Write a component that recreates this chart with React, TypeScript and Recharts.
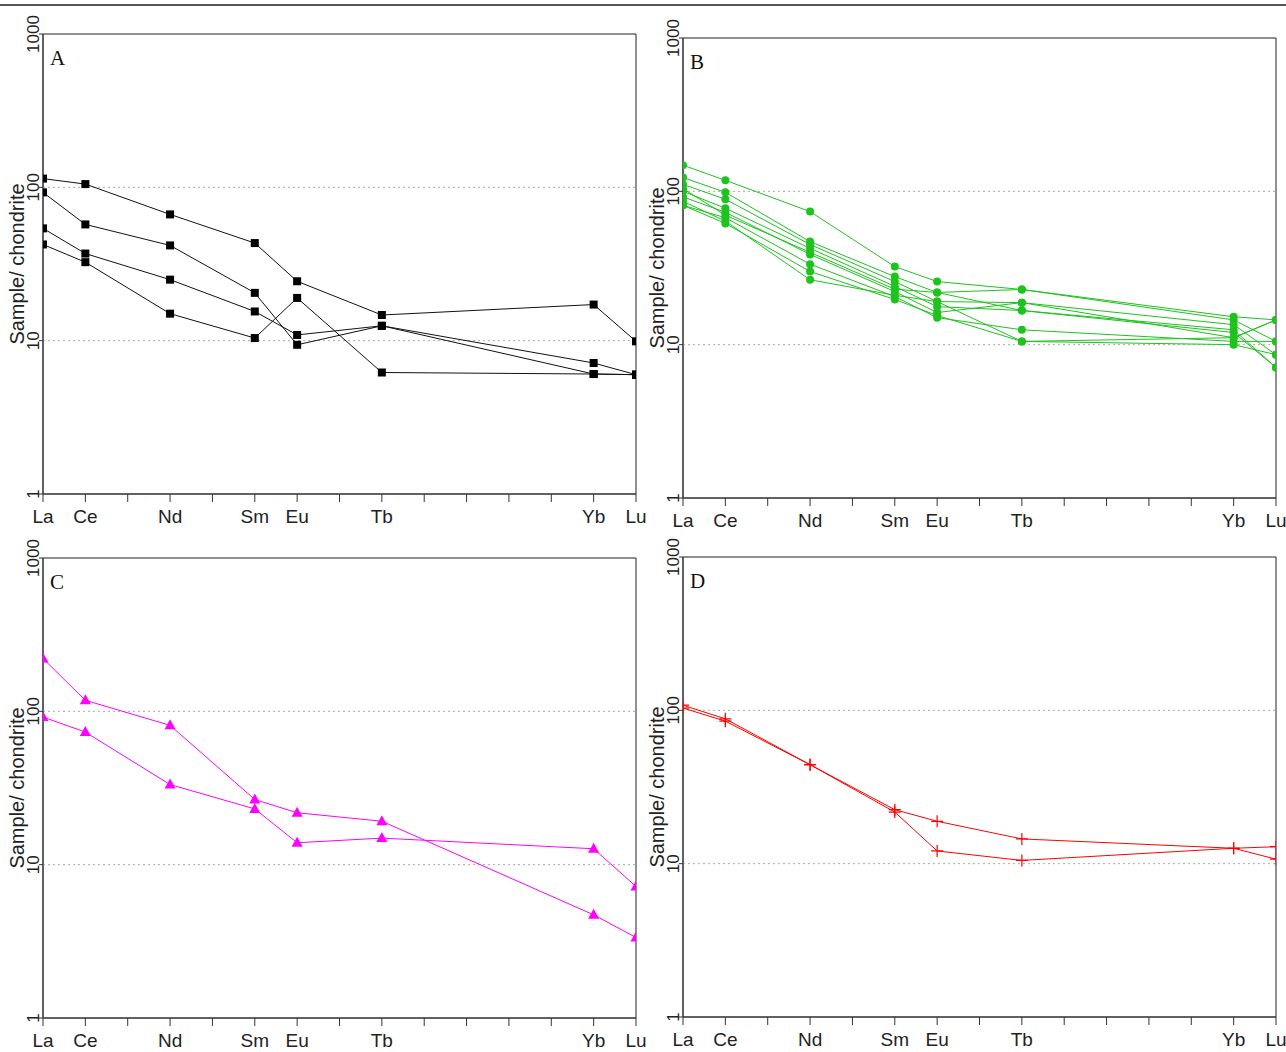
import { LineChart, Line, XAxis, YAxis, ReferenceLine, ReferenceArea } from 'recharts';

const FONT = '"Liberation Sans", Arial, sans-serif';

// REE positions on the x axis (Pr, Pm, Gd, Dy, Ho, Er, Tm are ticks only)
const elementPos = [0, 1, 3, 5, 6, 8, 13, 14];
const xTicks = [0, 1, 2, 3, 4, 5, 6, 7, 8, 9, 10, 11, 12, 13, 14];
const xLabels = ['La', 'Ce', '', 'Nd', '', 'Sm', 'Eu', '', 'Tb', '', '', '', '', 'Yb', 'Lu'];
const yTicks = [1, 10, 100, 1000];

// values per sample: La, Ce, Nd, Sm, Eu, Tb, Yb, Lu
const panelA = [
  [114, 105, 66.6, 43.3, 24.4, 14.7, 17.2, 9.9],
  [92.7, 57.3, 41.8, 20.5, 9.4, 12.5, 7.15, 6.0],
  [54, 37, 25, 15.5, 10.9, 12.5, 6.06, 6.0],
  [42.4, 32.5, 15, 10.4, 19, 6.2, 6.06, 6.0],
];

const panelB = [
  [148, 118, 73.8, 32.3, 25.8, 22.9, 15.2, 14.5],
  [123, 98.6, 47, 27.8, 21.9, 22.9, 14.5, 10.5],
  [111, 88.8, 45, 25.8, 19.1, 18.8, 13.5, 8.6],
  [100, 77.6, 42.5, 24, 17.7, 16.7, 12, 7.1],
  [92, 73, 38.8, 22.2, 16.2, 18.8, 11.1, 14.5],
  [81, 67.3, 33.5, 20.6, 15, 12.5, 10.5, 10.5],
  [81, 61.8, 30, 19.7, 15.5, 10.5, 10, 8.6],
  [86, 64, 26.5, 21, 19.1, 10.5, 11.1, 14.5],
  [104, 70, 40, 23, 21.9, 16.7, 12.5, 7.1],
];

const panelC = [
  [221, 118, 81, 26.6, 21.8, 19.2, 4.71, 3.35],
  [91.8, 73.2, 33.3, 23.1, 13.9, 14.9, 12.7, 7.21],
];

const panelD = [
  [108, 88, 44.2, 22.5, 18.9, 14.5, 12.6, 12.9],
  [103.5, 85, 44.2, 21.7, 12.1, 10.5, 12.6, 10.7],
];

const squareDot = (p: any) => (
  <rect key={`sq-${p.index}`} x={p.cx - 4} y={p.cy - 4} width={8} height={8} fill="#000" />
);
const circleDot = (p: any) => (
  <circle key={`ci-${p.index}`} cx={p.cx} cy={p.cy} r={4} fill="#1ec31e" />
);
const triangleDot = (p: any) => (
  <polygon
    key={`tr-${p.index}`}
    points={`${p.cx},${p.cy - 6} ${p.cx - 5.5},${p.cy + 4} ${p.cx + 5.5},${p.cy + 4}`}
    fill="#ff00ff"
  />
);
const plusDot = (p: any) => (
  <path
    key={`pl-${p.index}`}
    d={`M${p.cx - 6},${p.cy}H${p.cx + 6}M${p.cx},${p.cy - 6}V${p.cy + 6}`}
    stroke="#ff0000"
    strokeWidth={1.2}
    fill="none"
  />
);

const YTick = (props: any) => {
  const { x, y, payload } = props;
  return (
    <text
      x={x}
      y={y}
      transform={`rotate(-90 ${x} ${y})`}
      textAnchor="middle"
      fontSize={17}
      fill="#222"
      fontFamily={FONT}
    >
      {payload.value}
    </text>
  );
};

interface PanelProps {
  series: number[][];
  color: string;
  dot: (p: any) => JSX.Element;
  letter: string;
  left: number;
  top: number;
}

function Panel({ series, color, dot, letter, left, top }: PanelProps) {
  const data = elementPos.map((x, i) => {
    const row: Record<string, number> = { x };
    series.forEach((s, j) => {
      row[`s${j}`] = s[i];
    });
    return row;
  });

  return (
    <div style={{ position: 'absolute', left, top }}>
      <LineChart width={646} height={530} data={data} margin={{ top: 30, right: 10, left: 0, bottom: 0 }}>
        <XAxis
          dataKey="x"
          type="number"
          domain={[0, 14]}
          ticks={xTicks}
          interval={0}
          allowDataOverflow
          tickFormatter={(v: number) => xLabels[v]}
          tickSize={8}
          tickMargin={8}
          height={40}
          stroke="#333"
          tick={{ fontSize: 19, fill: '#222', fontFamily: FONT }}
        />
        <YAxis
          type="number"
          scale="log"
          domain={[1, 1000]}
          ticks={yTicks}
          allowDataOverflow
          width={43}
          tickSize={4}
          tickMargin={0}
          stroke="#333"
          tick={<YTick />}
          label={() => (
            <text
              x={24}
              y={260}
              transform="rotate(-90 24 260)"
              textAnchor="middle"
              fontSize={20}
              fill="#222"
              fontFamily={FONT}
            >
              Sample/ chondrite
            </text>
          )}
        />
        <ReferenceLine y={10} stroke="#aaa" strokeDasharray="2 3" />
        <ReferenceLine y={100} stroke="#aaa" strokeDasharray="2 3" />
        {series.map((_, j) => (
          <Line
            key={j}
            dataKey={`s${j}`}
            stroke={color}
            strokeWidth={1}
            dot={dot}
            activeDot={false}
            isAnimationActive={false}
          />
        ))}
        <ReferenceArea
          x1={0}
          x2={14}
          y1={1}
          y2={1000}
          fill="none"
          fillOpacity={0}
          stroke="#222"
          strokeOpacity={1}
          label={() => (
            <text x={50} y={61} fontSize={21} fill="#111" fontFamily='"Liberation Serif", "Times New Roman", serif'>
              {letter}
            </text>
          )}
        />
      </LineChart>
    </div>
  );
}

export default function App() {
  return (
    <div style={{ position: 'absolute', left: 0, top: 0, width: 1286, height: 1052, background: '#fff' }}>
      <div style={{ position: 'absolute', left: 0, top: 4, width: 1286, height: 2, background: '#555' }} />
      <Panel series={panelA} color="#111" dot={squareDot} letter="A" left={0} top={4} />
      <Panel series={panelB} color="#1ec31e" dot={circleDot} letter="B" left={640} top={8} />
      <Panel series={panelC} color="#ff00ff" dot={triangleDot} letter="C" left={0} top={528} />
      <Panel series={panelD} color="#ff0000" dot={plusDot} letter="D" left={640} top={527} />
    </div>
  );
}
